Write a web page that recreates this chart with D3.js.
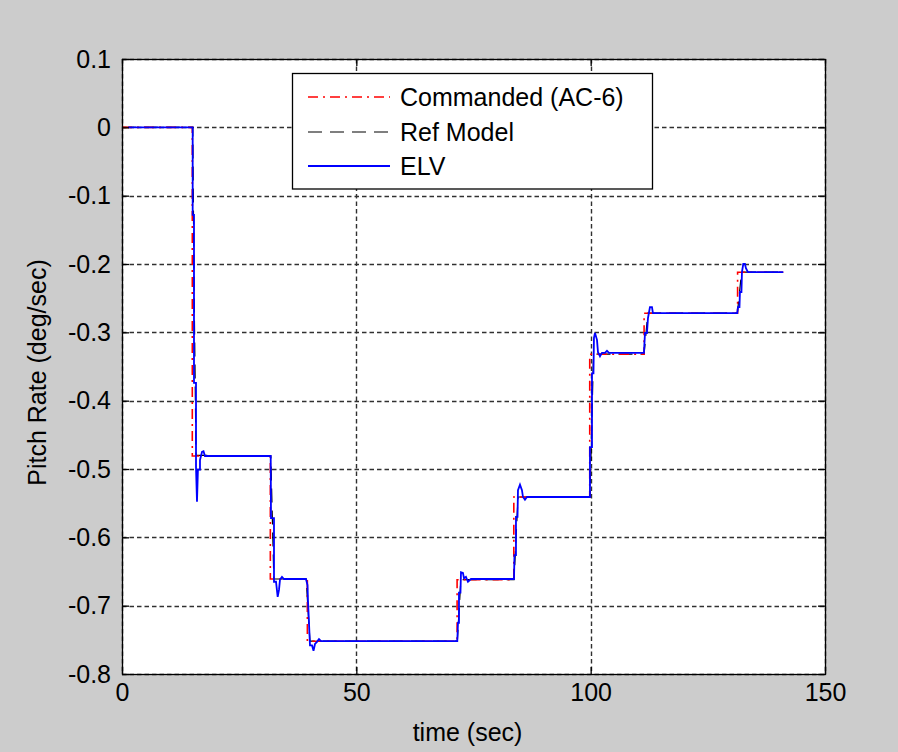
<!DOCTYPE html>
<html>
<head>
<meta charset="utf-8">
<script src="https://cdn.jsdelivr.net/npm/d3@7/dist/d3.min.js"></script>
<style>
  html, body { margin: 0; padding: 0; background: #cccccc; }
  svg { display: block; }
  text { font-family: "Liberation Sans", Arial, sans-serif; fill: #000; }
</style>
</head>
<body>
<svg id="chart" width="898" height="752"></svg>
<script>
// Axis ticks
const xTicks = [0, 50, 100, 150];
const yTicks = [0.1, 0, -0.1, -0.2, -0.3, -0.4, -0.5, -0.6, -0.7, -0.8];
const yTickLabels = ["0.1", "0", "-0.1", "-0.2", "-0.3", "-0.4", "-0.5", "-0.6", "-0.7", "-0.8"];

// Series names
const seriesNames = ["Commanded (AC-6)", "Ref Model", "ELV"];

// Commanded pitch rate: step times (sec) and held levels (deg/sec)
const cmdTimes  = [0, 15.0, 31.65, 39.55, 71.5, 83.6, 99.8, 111.4, 131.35, 141.1];
const cmdLevels = [0, -0.481, -0.661, -0.752, -0.662, -0.541, -0.332, -0.272, -0.212];

// Reference model response [time, rate]
const refModel = [
  [0, 0], [1.3, 0], [15.1, 0], [15.4, -0.25], [15.8, -0.48], [31.75, -0.481],
  [32.4, -0.661], [39.3, -0.661], [40.1, -0.752], [71.55, -0.752],
  [72.3, -0.662], [83.65, -0.662], [84.5, -0.541], [99.85, -0.541],
  [100.6, -0.332], [111.4, -0.332], [112.2, -0.272], [131.3, -0.272],
  [132.2, -0.212], [141.1, -0.212]
];

// ELV measured pitch rate [time, rate]
const elv = [
  [1.3, 0], [15.08, 0], [15.08, -0.128], [15.36, -0.128], [15.36, -0.374],
  [15.79, -0.374], [15.79, -0.497], [16.0, -0.548], [16.2, -0.501],
  [16.64, -0.501], [16.64, -0.487], [17.07, -0.475], [17.39, -0.474],
  [17.71, -0.481], [31.73, -0.481],
  [31.79, -0.572], [32.43, -0.572], [32.43, -0.665], [32.86, -0.665],
  [33.22, -0.687], [33.5, -0.677], [33.71, -0.662], [34.14, -0.658],
  [34.56, -0.661], [39.26, -0.661], [39.58, -0.670],
  [39.68, -0.692], [40.11, -0.758], [40.54, -0.758], [40.86, -0.766],
  [41.18, -0.756], [41.6, -0.753], [42.03, -0.749], [42.46, -0.752],
  [71.54, -0.752],
  [71.69, -0.725], [71.9, -0.725], [71.9, -0.681], [72.22, -0.681],
  [72.33, -0.651], [72.75, -0.652], [72.97, -0.660], [73.39, -0.658],
  [73.82, -0.665], [74.46, -0.661], [83.64, -0.661],
  [83.74, -0.626], [84.06, -0.626], [84.06, -0.570], [84.39, -0.570],
  [84.49, -0.531], [84.92, -0.523], [85.34, -0.531], [85.56, -0.541],
  [85.98, -0.545], [86.41, -0.541], [99.85, -0.541],
  [99.85, -0.468], [100.28, -0.468], [100.28, -0.360], [100.6, -0.360],
  [100.7, -0.308], [100.92, -0.301], [101.35, -0.311], [101.56, -0.329],
  [101.99, -0.335], [102.41, -0.330], [103.05, -0.330], [103.48, -0.327],
  [103.9, -0.330], [111.37, -0.330],
  [111.59, -0.301], [112.01, -0.301], [112.23, -0.279], [112.65, -0.263],
  [113.08, -0.263], [113.29, -0.272], [131.28, -0.272],
  [131.43, -0.263], [131.75, -0.263], [131.85, -0.241], [132.17, -0.241],
  [132.28, -0.212], [132.56, -0.200], [132.92, -0.200], [133.13, -0.206],
  [133.56, -0.212], [141.1, -0.212]
];

const svg = d3.select("#chart");
const W = 898, H = 752;
const plot = { left: 122, top: 59, right: 825, bottom: 674 };

svg.append("rect").attr("width", W).attr("height", H).attr("fill", "#cccccc");

const x = d3.scaleLinear().domain([0, 150]).range([plot.left, plot.right]);
const y = d3.scaleLinear().domain([-0.8, 0.1]).range([plot.bottom, plot.top]);

// Axes background
svg.append("rect")
  .attr("x", plot.left).attr("y", plot.top)
  .attr("width", plot.right - plot.left).attr("height", plot.bottom - plot.top)
  .attr("fill", "#ffffff");

// Dotted grid
const grid = svg.append("g").attr("stroke", "#303030").attr("stroke-width", 1.4)
  .attr("stroke-dasharray", "4.5,3");
grid.selectAll("line.gx").data(xTicks).join("line")
  .attr("x1", d => Math.round(x(d)) + 0.5).attr("x2", d => Math.round(x(d)) + 0.5)
  .attr("y1", plot.top).attr("y2", plot.bottom);
grid.selectAll("line.gy").data(yTicks).join("line")
  .attr("y1", d => Math.round(y(d)) + 0.5).attr("y2", d => Math.round(y(d)) + 0.5)
  .attr("x1", plot.left).attr("x2", plot.right);

// Clip for data lines
svg.append("clipPath").attr("id", "clip").append("rect")
  .attr("x", plot.left).attr("y", plot.top)
  .attr("width", plot.right - plot.left).attr("height", plot.bottom - plot.top);

const line = d3.line().x(d => x(d[0])).y(d => y(d[1]));

// Commanded as a held step signal
const cmdPts = [];
cmdLevels.forEach((v, i) => {
  cmdPts.push([cmdTimes[i], v]);
  cmdPts.push([cmdTimes[i + 1], v]);
});

const lines = svg.append("g").attr("clip-path", "url(#clip)").attr("fill", "none");
lines.append("path").datum(refModel).attr("d", line)
  .attr("stroke", "#000").attr("stroke-width", 1.2).attr("stroke-dasharray", "14,8");
lines.append("path").datum(cmdPts).attr("d", line)
  .attr("stroke", "#ff0000").attr("stroke-width", 1.6).attr("stroke-dasharray", "10,5,2,5");
lines.append("path").datum(elv).attr("d", line)
  .attr("stroke", "#0000ff").attr("stroke-width", 1.8).attr("stroke-linejoin", "miter");

// Frame
svg.append("rect")
  .attr("x", plot.left + 0.5).attr("y", plot.top + 0.5)
  .attr("width", plot.right - plot.left).attr("height", plot.bottom - plot.top)
  .attr("fill", "none").attr("stroke", "#000").attr("stroke-width", 1.3);

// Axes with inward ticks on all four sides
const fontSize = 25;
const axL = svg.append("g").attr("transform", `translate(${plot.left},0)`)
  .call(d3.axisLeft(y).tickValues(yTicks).tickSize(-7).tickPadding(11)
    .tickFormat((d, i) => yTickLabels[i]));
const axR = svg.append("g").attr("transform", `translate(${plot.right},0)`)
  .call(d3.axisRight(y).tickValues(yTicks).tickSize(-7).tickFormat(""));
const axB = svg.append("g").attr("transform", `translate(0,${plot.bottom})`)
  .call(d3.axisBottom(x).tickValues(xTicks).tickSize(-7).tickPadding(9));
const axT = svg.append("g").attr("transform", `translate(0,${plot.top})`)
  .call(d3.axisTop(x).tickValues(xTicks).tickSize(-7).tickFormat(""));
[axL, axR, axB, axT].forEach(a => {
  a.select(".domain").remove();
  a.selectAll(".tick line").attr("stroke", "#000").attr("stroke-width", 1.3);
  a.selectAll("text").attr("font-size", fontSize)
    .attr("font-family", "'Liberation Sans', Arial, sans-serif").attr("fill", "#000");
});

// Axis titles
svg.append("text")
  .attr("x", (plot.left + plot.right) / 2 - 6).attr("y", 741)
  .attr("text-anchor", "middle").attr("font-size", fontSize)
  .text("time (sec)");
svg.append("text")
  .attr("transform", `translate(46,${(plot.top + plot.bottom) / 2 + 6}) rotate(-90)`)
  .attr("text-anchor", "middle").attr("font-size", fontSize)
  .text("Pitch Rate (deg/sec)");

// Legend
const lg = svg.append("g");
lg.append("rect").attr("x", 292.5).attr("y", 73.5).attr("width", 360).attr("height", 115.5)
  .attr("fill", "#fff").attr("stroke", "#000").attr("stroke-width", 1.3);
const legendStyles = [
  { color: "#ff0000", dash: "10,5,2,5", width: 1.6 },
  { color: "#000000", dash: "14,8", width: 1.2 },
  { color: "#0000ff", dash: null, width: 1.8 }
];
const rowY = [97, 132, 166];
seriesNames.forEach((name, i) => {
  const s = legendStyles[i];
  lg.append("line").attr("x1", 308).attr("x2", 390).attr("y1", rowY[i]).attr("y2", rowY[i])
    .attr("stroke", s.color).attr("stroke-width", s.width)
    .attr("stroke-dasharray", s.dash);
  lg.append("text").attr("x", 400).attr("y", rowY[i]).attr("dy", "0.36em")
    .attr("font-size", fontSize).text(name);
});
</script>
</body>
</html>
